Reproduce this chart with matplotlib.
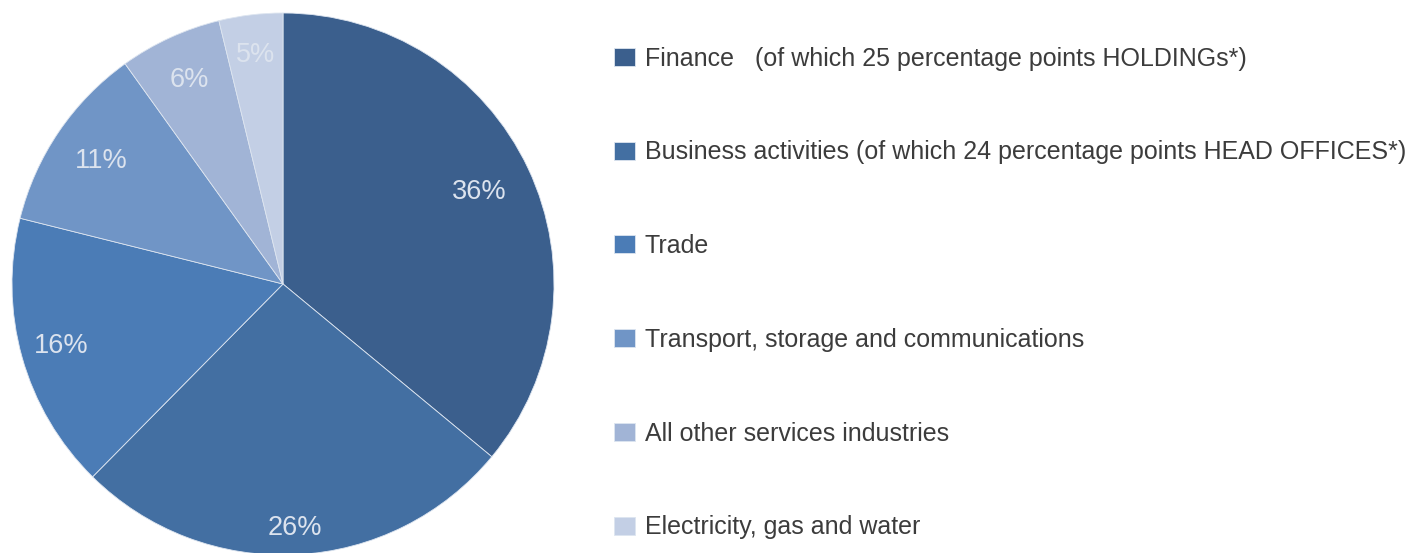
import numpy as np
import matplotlib
matplotlib.use("Agg")
import matplotlib.pyplot as plt

plt.rcParams['font.family'] = ['Liberation Sans', 'DejaVu Sans']

# data
sectors = ['Finance   (of which 25 percentage points HOLDINGs*)',
           'Business activities (of which 24 percentage points HEAD OFFICES*)',
           'Trade',
           'Transport, storage and communications',
           'All other services industries',
           'Electricity, gas and water']
# wedge sizes as drawn in the picture; printed labels below
shares = [36.0, 26.4, 16.5, 11.2, 6.1, 3.8]
pct_labels = ['36%', '26%', '16%', '11%', '6%', '5%']
colors = ['#3b5f8d', '#436fa2', '#4b7cb6', '#7095c6', '#a1b4d6', '#c3cfe5']
# radial position of each percentage label (fraction of radius)
label_pos = [0.80, 0.90, 0.85, 0.81, 0.83, 0.85]

fig = plt.figure(figsize=(14.23, 5.53), dpi=100)
ax = fig.add_axes([12 / 1423, -2 / 553, 542 / 1423, 542 / 553])

wedges, texts = ax.pie(shares, colors=colors, startangle=90, counterclock=False,
                       radius=1, labels=pct_labels, labeldistance=0.85,
                       wedgeprops=dict(edgecolor='#dde5f0', linewidth=0.6),
                       textprops=dict(color='#dce3ee', fontsize=19.5))

for w, t, r in zip(wedges, texts, label_pos):
    ang = np.deg2rad((w.theta1 + w.theta2) / 2)
    t.set_position((r * np.cos(ang), r * np.sin(ang)))
    t.set_ha('center')
    t.set_va('center')

ax.set_xlim(-1, 1)
ax.set_ylim(-1, 1)
ax.set_aspect('equal')
ax.axis('off')

fig.legend(wedges, sectors, loc='center left', bbox_to_anchor=(614 / 1423, 1 - 293 / 553),
           frameon=False, fontsize=18, labelcolor='#3c3c3c',
           handlelength=0.83, handleheight=0.72, handletextpad=0.4,
           labelspacing=2.79, borderpad=0, borderaxespad=0)

fig.savefig('out.png', dpi=100)
